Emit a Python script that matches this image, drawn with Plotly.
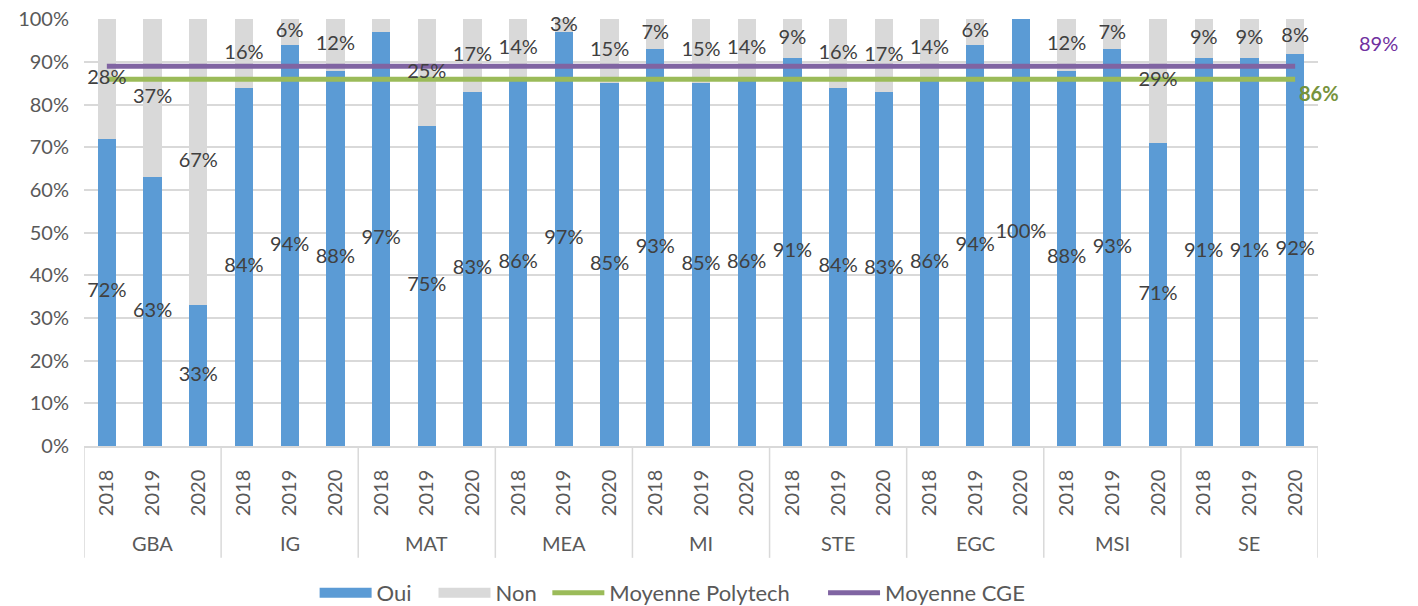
import plotly.graph_objects as go

groups = ["GBA", "IG", "MAT", "MEA", "MI", "STE", "EGC", "MSI", "SE"]
years = ["2018", "2019", "2020"]
oui = [72, 63, 33, 84, 94, 88, 97, 75, 83, 86, 97, 85, 93, 85, 86,
       91, 84, 83, 86, 94, 100, 88, 93, 71, 91, 91, 92]
non = [28, 37, 67, 16, 6, 12, 3, 25, 17, 14, 3, 15, 7, 15, 14,
       9, 16, 17, 14, 6, 0, 12, 7, 29, 9, 9, 8]
non_labels = ["28%", "37%", "67%", "16%", "6%", "12%", "", "25%", "17%",
              "14%", "3%", "15%", "7%", "15%", "14%", "9%", "16%", "17%",
              "14%", "6%", "", "12%", "7%", "29%", "9%", "9%", "8%"]
moy_polytech = 86
moy_cge = 89

n = len(oui)
xs = list(range(n))
year_ticks = [y for _ in groups for y in years]

FONT = "Lato, Open Sans, sans-serif"
BLUE = "#5B9BD5"
GRAY = "#D9D9D9"
GREEN = "#9BBB59"
PURPLE = "#8064A2"
TXT = "#404040"
AX = "#595959"
FS = 20
NB = "\u00a0"

fig = go.Figure()
fig.add_bar(x=xs, y=oui, name="Oui", marker_color=BLUE, marker_line_width=0, width=0.4,
            showlegend=False)
fig.add_bar(x=xs, y=non, name="Non", marker_color=GRAY, marker_line_width=0, width=0.4,
            showlegend=False)
fig.add_scatter(x=xs, y=[moy_polytech] * n, mode="lines", name="Moyenne Polytech",
                line=dict(color=GREEN, width=5), showlegend=False)
fig.add_scatter(x=xs, y=[moy_cge] * n, mode="lines", name="Moyenne CGE",
                line=dict(color=PURPLE, width=5), showlegend=False)

# legend entries (wide rectangles / rounded lines like the original)
legend_items = [("Oui" + NB * 3, BLUE, 12), ("Non" + NB * 1, GRAY, 12),
                ("Moyenne Polytech" + NB * 5, GREEN, 5), ("Moyenne CGE", PURPLE, 5)]
for name, col, lw in legend_items:
    fig.add_scatter(x=[None], y=[None], mode="lines", name=name,
                    line=dict(color=col, width=lw), hoverinfo="skip")

# data labels
fig.add_scatter(x=xs, y=[v / 2 for v in oui], mode="text",
                text=[f"{v}%" for v in oui], textposition="middle center",
                textfont=dict(color=TXT, size=FS, family=FONT),
                showlegend=False, hoverinfo="skip", cliponaxis=False)
fig.add_scatter(x=xs, y=[o + m / 2 for o, m in zip(oui, non)], mode="text",
                text=non_labels, textposition="middle center",
                textfont=dict(color=TXT, size=FS, family=FONT),
                showlegend=False, hoverinfo="skip", cliponaxis=False)

fig.add_annotation(xref="paper", x=1.049, xanchor="center", y=moy_cge, yshift=23,
                   text="89%", showarrow=False,
                   font=dict(color="#7030A0", size=FS, family=FONT))
fig.add_annotation(xref="paper", x=1.0008, xanchor="center", y=moy_polytech, yshift=-14,
                   text="<b>86%</b>", showarrow=False,
                   font=dict(color="#77933C", size=FS, family=FONT))

# group labels and dividers
for gi, g in enumerate(groups):
    fig.add_annotation(x=gi * 3 + 1, yref="paper", y=-0.227, text=g, showarrow=False,
                       font=dict(color=AX, size=FS, family=FONT), yanchor="middle")
for k in range(len(groups) + 1):
    fig.add_shape(type="line", xref="x", yref="paper", x0=k * 3 - 0.5, x1=k * 3 - 0.5,
                  y0=0, y1=-0.262, line=dict(color=GRAY, width=1.5))

fig.update_layout(
    width=1410, height=598,
    barmode="stack",
    plot_bgcolor="white", paper_bgcolor="white",
    margin=dict(l=76, r=100, t=11, b=160, autoexpand=False),
    font=dict(family=FONT, color=AX, size=FS),
    legend=dict(orientation="h", x=0.477, xanchor="center", yref="container",
                y=0.0217, yanchor="middle", itemwidth=52,
                font=dict(size=22, color=AX), traceorder="normal"),
)
fig.update_yaxes(range=[0, 100.1], dtick=10, tick0=0, ticksuffix="%", showgrid=True,
                 gridcolor=GRAY, gridwidth=1.5, zeroline=False, automargin=False,
                 ticklabeloverflow="allow",
                 tickfont=dict(size=FS, color=AX), ticks="", ticklabelstandoff=14)
fig.update_xaxes(range=[-0.5, n - 0.5], tickmode="array", tickvals=xs, ticktext=year_ticks,
                 tickangle=-90, showline=True, linecolor=GRAY, linewidth=1.5,
                 showgrid=False, zeroline=False, automargin=False, ticks="",
                 ticklabeloverflow="allow",
                 ticklabelstandoff=14, tickfont=dict(size=FS, color=AX))

fig.write_html("out.html")
